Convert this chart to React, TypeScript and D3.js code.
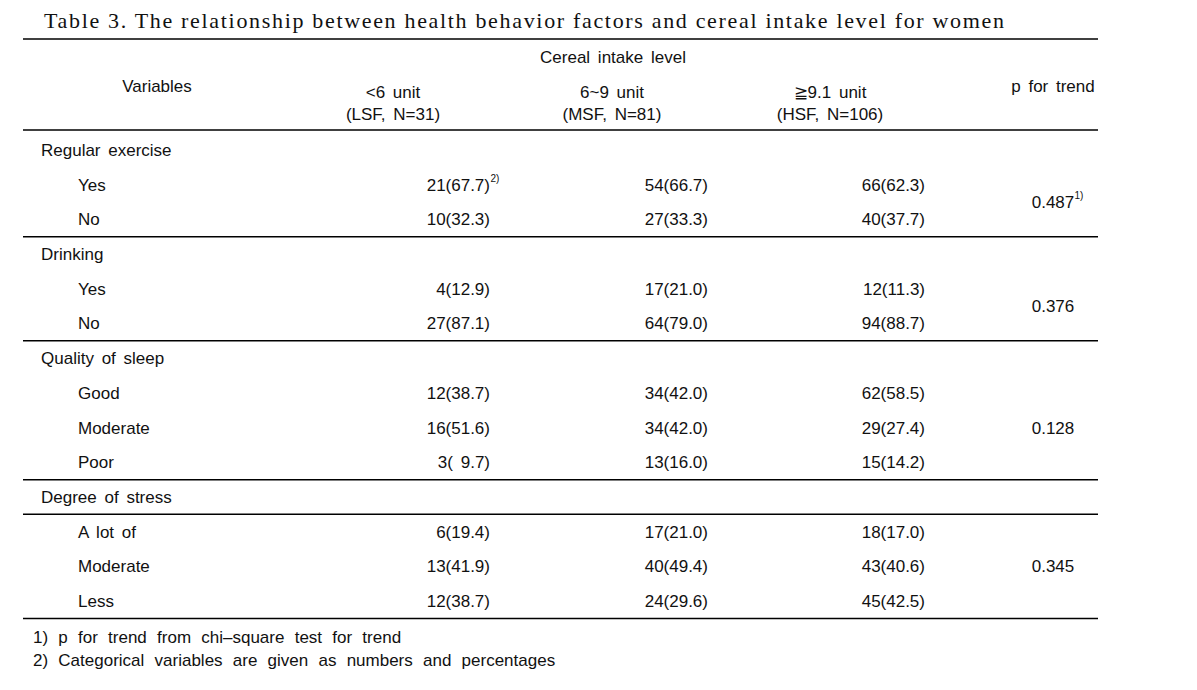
import React from "react";
import * as d3 from "d3";

const title = "Table 3. The relationship between health behavior factors and cereal intake level for women";
const spanHeader = "Cereal intake level";
const colHeads = ["<6 unit", "6~9 unit", "\u22679.1 unit"];
const colSubs = ["(LSF, N=31)", "(MSF, N=81)", "(HSF, N=106)"];
const groups = ["Regular exercise", "Drinking", "Quality of sleep", "Degree of stress"];
const levels = [["Yes", "No"], ["Yes", "No"], ["Good", "Moderate", "Poor"], ["A lot of", "Moderate", "Less"]];
const lsfN = [21, 10, 4, 27, 12, 16, 3, 6, 13, 12];
const lsfPct = [67.7, 32.3, 12.9, 87.1, 38.7, 51.6, 9.7, 19.4, 41.9, 38.7];
const msfN = [54, 27, 17, 64, 34, 34, 13, 17, 40, 24];
const msfPct = [66.7, 33.3, 21.0, 79.0, 42.0, 42.0, 16.0, 21.0, 49.4, 29.6];
const hsfN = [66, 40, 12, 94, 62, 29, 15, 18, 43, 45];
const hsfPct = [62.3, 37.7, 11.3, 88.7, 58.5, 27.4, 14.2, 17.0, 40.6, 42.5];
const pValues = ["0.487", "0.376", "0.128", "0.345"];
const footnotes = ["1) p for trend from chi\u2013square test for trend", "2) Categorical variables are given as numbers and percentages"];

const fmt = (n: number, p: number) => `${n}(${p < 10 ? "\u00a0" + p.toFixed(1) : p.toFixed(1)})`;

export default function App() {
  const W = 1197, H = 690;
  const x0 = 23, x1 = 1098;
  const colRight = d3.scaleOrdinal<number, number>().domain([0, 1, 2]).range([490, 708, 925]);
  const colCenter = d3.scaleOrdinal<number, number>().domain([0, 1, 2]).range([393, 612, 830]);
  const pX = 1053;
  const u = 17.35;
  const font = "'Liberation Sans', Arial, sans-serif";
  const fs = 17;
  const ink = "#111";

  const cols = [
    lsfN.map((n, i) => fmt(n, lsfPct[i])),
    msfN.map((n, i) => fmt(n, msfPct[i])),
    hsfN.map((n, i) => fmt(n, hsfPct[i])),
  ];

  const elems: React.ReactNode[] = [];
  const lines: number[] = [39, 130];
  let y = 150;
  let idx = 0;
  groups.forEach((g, gi) => {
    elems.push(<text key={"g" + gi} x={41} y={y} dy="0.35em">{g}</text>);
    const gy = y;
    if (gi === groups.length - 1) lines.push(gy + u);
    const rowYs: number[] = [];
    levels[gi].forEach((lv, li) => {
      const ry = gy + 2 * u * (li + 1);
      rowYs.push(ry);
      elems.push(<text key={`l${gi}-${li}`} x={78} y={ry} dy="0.35em">{lv}</text>);
      cols.forEach((c, ci) => {
        elems.push(
          <text key={`c${gi}-${li}-${ci}`} x={colRight(ci) - (gi === 0 && li === 0 && ci === 0 ? 0 : 0)} y={ry} dy="0.35em" textAnchor="end">{c[idx]}</text>
        );
        if (gi === 0 && li === 0 && ci === 0) {
          elems.push(
            <text key="sup2" x={colRight(ci) + 0.5} y={ry - 3} fontSize={10}>2)</text>
          );
        }
      });
      idx++;
    });
    const py = d3.mean(rowYs) as number;
    elems.push(
      <text key={"p" + gi} x={pX} y={py} dy="0.35em" textAnchor="middle">{pValues[gi]}</text>
    );
    if (gi === 0) {
      elems.push(<text key="sup1" x={pX + 21.5} y={py - 3} fontSize={10}>1)</text>);
    }
    const last = rowYs[rowYs.length - 1];
    lines.push(last + u);
    y = last + 2 * u;
  });
  const lastLine = lines[lines.length - 1];

  return (
    <svg width={W} height={H} style={{ position: "absolute", left: 0, top: 0, background: "#fff" }}>
      <text x={44} y={28} fontFamily="'Liberation Serif', 'Times New Roman', serif" fontSize={22} fill={ink}
        textLength={960} lengthAdjust="spacing">{title}</text>
      {lines.map((ly, i) => (
        <line key={"ln" + i} x1={x0} x2={x1} y1={ly} y2={ly} stroke="#000" strokeWidth={1.5} />
      ))}
      <g fontFamily={font} fontSize={fs} fill={ink} style={{ wordSpacing: "3px" }}>
        <text x={613} y={57} dy="0.35em" textAnchor="middle">{spanHeader}</text>
        <text x={157} y={86} dy="0.35em" textAnchor="middle">Variables</text>
        <text x={pX} y={86} dy="0.35em" textAnchor="middle">p for trend</text>
        {colHeads.map((h, i) => (
          <text key={"h" + i} x={colCenter(i)} y={92} dy="0.35em" textAnchor="middle">{h}</text>
        ))}
        {colSubs.map((h, i) => (
          <text key={"s" + i} x={colCenter(i)} y={114} dy="0.35em" textAnchor="middle">{h}</text>
        ))}
        {elems}
        {footnotes.map((f, i) => (
          <text key={"f" + i} x={33} y={lastLine + 18.6 + 23 * i} dy="0.35em" style={{ wordSpacing: "5.5px" }}>{f}</text>
        ))}
      </g>
    </svg>
  );
}
